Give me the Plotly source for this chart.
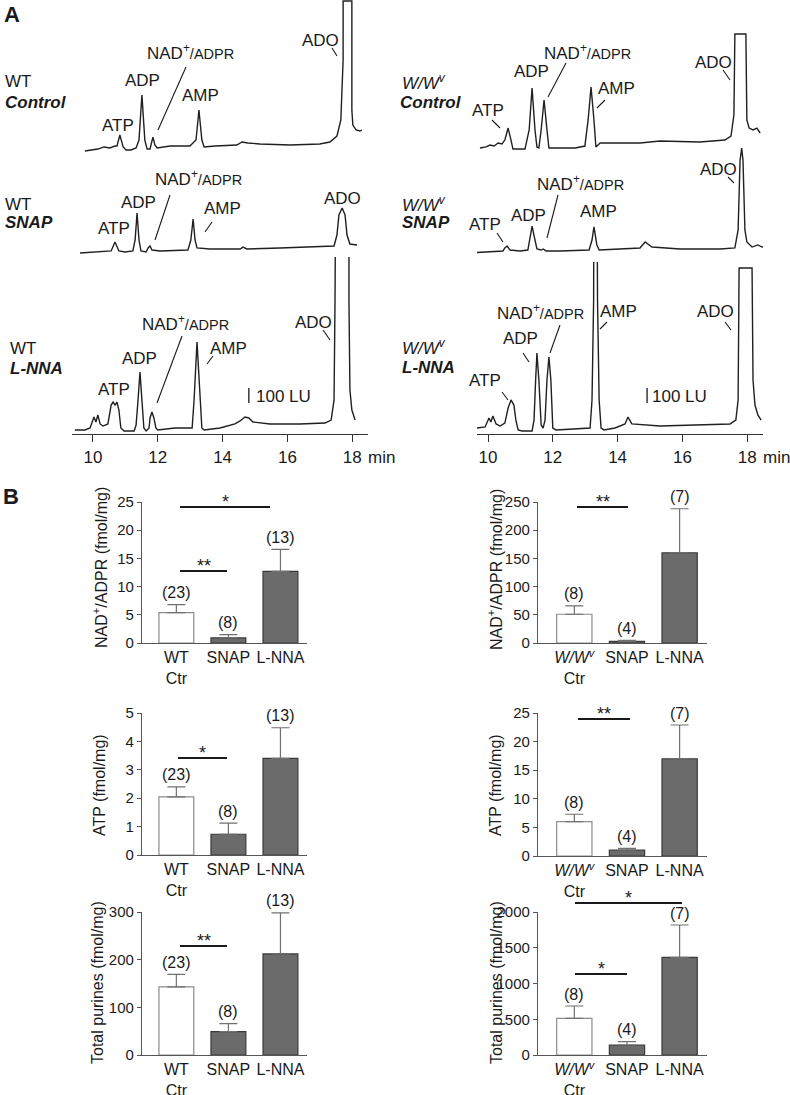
import plotly.graph_objects as go

W, H = 790, 1095
FONT = "Liberation Sans, Arial, sans-serif"
INK = "#1a1a1a"
LU_PER_PX = 100 / 15   # the 100 LU scale bar is 15 px tall

### panel A: HPLC traces, retention time (min) and fluorescence (LU)
wt_ctrl_t = [9.75, 9.97, 10.15, 10.34, 10.52, 10.68, 10.74, 10.83, 10.93, 11.02, 11.17, 11.33,
             11.42, 11.51, 11.60, 11.67, 11.76, 11.79, 11.85, 11.91, 11.98, 12.38, 12.99, 13.18,
             13.27, 13.36, 13.43, 13.77, 14.44, 14.60, 14.78, 15.15, 16.08, 17.00, 17.31, 17.53,
             17.65, 17.72, 17.72, 17.99, 17.99, 18.02, 18.12, 18.24, 18.30]
wt_ctrl_lu = [-20, -13, -7, 7, 0, 13, 13, 87, 7, -13, -13, 0,
              53, 353, 53, -7, -7, 20, 73, 20, 0, 13, 13, 53,
              253, 53, 7, 13, 20, 40, 33, 27, 20, 27, 40, 80,
              187, 587, 980, 980, 253, 153, 120, 113, 120]

wt_snap_t = [9.60, 10.06, 10.37, 10.56, 10.68, 10.80, 10.99, 11.23, 11.30, 11.36, 11.42, 11.48,
             11.64, 11.70, 11.76, 11.82, 12.07, 12.93, 13.02, 13.09, 13.15, 13.21, 13.61, 14.54,
             14.63, 14.75, 15.77, 17.00, 17.44, 17.53, 17.59, 17.69, 17.78, 17.84, 17.93, 18.15]
wt_snap_lu = [-7, 0, 7, 7, 67, 7, 0, 7, 80, 260, 80, 7,
              0, 27, 40, 13, 7, 13, 80, 220, 80, 27, 20, 20,
              33, 20, 27, 33, 40, 113, 247, 293, 247, 113, 53, 47]

wt_lnna_t = [9.44, 9.75, 9.91, 10.03, 10.09, 10.15, 10.22, 10.31, 10.46, 10.56, 10.62, 10.68,
             10.74, 10.80, 10.86, 10.96, 11.27, 11.33, 11.39, 11.45, 11.51, 11.57, 11.64, 11.73,
             11.76, 11.82, 11.88, 11.94, 12.00, 12.53, 13.06, 13.12, 13.21, 13.30, 13.36, 13.43,
             13.92, 14.38, 14.54, 14.69, 14.81, 14.94, 15.46, 16.39, 17.16, 17.35, 17.44, 17.47,
             17.50, 17.90, 17.90, 17.93, 17.99, 18.09]
wt_lnna_lu = [-13, -13, 0, 73, 40, 87, 27, 13, 27, 153, 173, 153,
              173, 120, 0, -20, -20, 20, 187, 373, 187, 0, -20, 0,
              67, 107, 67, 0, -13, 0, 0, 187, 573, 187, 0, -13,
              0, 27, 47, 73, 67, 40, 27, 27, 33, 53, 187, 853,
              2000, 2000, 853, 253, 120, 53]

wv_ctrl_t = [9.75, 9.94, 10.06, 10.19, 10.31, 10.43, 10.52, 10.62, 10.71, 10.77, 11.14, 11.27,
             11.36, 11.45, 11.51, 11.57, 11.64, 11.73, 11.82, 11.88, 12.69, 12.99, 13.09, 13.18,
             13.27, 13.33, 13.46, 14.69, 15.31, 16.54, 17.31, 17.50, 17.59, 17.62, 17.96, 17.99,
             18.06, 18.18, 18.30, 18.40]
wv_ctrl_lu = [-20, -13, 0, -7, 13, 7, 33, 113, 33, -27, -27, 100,
              380, 100, -13, -20, 100, 300, 100, -20, -20, -7, 167, 387,
              167, -13, 13, 13, 27, 20, 33, 60, 200, 740, 740, 167,
              113, 100, 113, 80]

wv_snap_t = [9.38, 10.06, 10.46, 10.52, 10.59, 10.68, 10.99, 11.23, 11.30, 11.36, 11.45, 11.51,
             11.64, 11.70, 11.79, 12.22, 13.12, 13.21, 13.27, 13.36, 13.43, 14.07, 14.69, 14.85,
             15.06, 15.93, 17.16, 17.62, 17.72, 17.78, 17.83, 17.87, 17.93, 17.99, 18.15, 18.33,
             18.46, 18.64]
wv_snap_lu = [-7, 0, 7, 27, 40, 13, 7, 13, 113, 173, 80, 20,
              13, 20, 7, 7, 13, 80, 167, 47, 13, 20, 27, 67,
              33, 20, 20, 27, 147, 613, 693, 613, 147, 67, 33, 47,
              33, 40]

wv_lnna_t = [9.66, 9.91, 10.03, 10.09, 10.15, 10.25, 10.37, 10.52, 10.62, 10.71, 10.80, 10.86,
             10.93, 11.05, 11.36, 11.42, 11.47, 11.51, 11.57, 11.64, 11.70, 11.76, 11.82, 11.88,
             11.94, 12.00, 12.10, 12.69, 13.15, 13.21, 13.26, 13.27, 13.36, 13.38, 13.43, 13.49,
             13.58, 13.92, 14.23, 14.32, 14.44, 15.31, 16.54, 17.47, 17.65, 17.72, 17.75, 18.15,
             18.18, 18.24, 18.33, 18.43]
wv_lnna_lu = [0, 7, 67, 40, 80, 27, 13, 33, 133, 187, 153, 53,
              -13, -20, -20, 53, 320, 500, 320, 20, 0, 53, 320, 473,
              320, 0, -13, -7, 0, 187, 853, 2000, 2000, 853, 187, 0,
              -13, 0, 27, 73, 27, 13, 20, 27, 53, 187, 1067, 1067,
              320, 153, 87, 53]

time_ticks = [10, 12, 14, 16, 18]
time_ticktext = ["10", "12", "14", "16", "18"]

### panel B: bar charts (mean + SEM, fmol/mg)
groups_wt = ["WT<br>Ctr", "SNAP", "L-NNA"]
groups_wv = ["<i>W/W<sup>v</sup></i><br>Ctr", "SNAP", "L-NNA"]
n_wt = ["(23)", "(8)", "(13)"]
n_wv = ["(8)", "(4)", "(7)"]

nad_wt = [5.4, 0.9, 12.7]
nad_wt_sem = [1.4, 0.6, 3.9]
atp_wt = [2.05, 0.73, 3.4]
atp_wt_sem = [0.35, 0.39, 1.08]
tot_wt = [143, 49, 212]
tot_wt_sem = [26, 17, 86]

nad_wv = [51, 3, 160]
nad_wv_sem = [15, 1.5, 78]
atp_wv = [6.0, 1.05, 17.0]
atp_wv_sem = [1.3, 0.3, 5.9]
tot_wv = [513, 140, 1366]
tot_wv_sem = [172, 46, 452]


def px(x, y):
    return x / W, 1 - y / H


def xdom(a, b):
    return [a / W, b / W]


def ydom(top, bottom):
    return [1 - bottom / H, 1 - top / H]


def axkey(name):
    return name[0] + "axis" + name[1:]


fig = go.Figure()
layout = dict(width=W, height=H, margin=dict(l=0, r=0, t=0, b=0, pad=0), template="none",
              plot_bgcolor="rgba(0,0,0,0)", paper_bgcolor="white", showlegend=False,
              font=dict(family=FONT, color=INK))

# chromatograms: each trace on its own hidden y axis, sharing the column x axis
chroms = [
    (wt_ctrl_t, wt_ctrl_lu, "x", "y", 0, 148, 160),
    (wt_snap_t, wt_snap_lu, "x", "y2", 140, 252, 262),
    (wt_lnna_t, wt_lnna_lu, "x", "y3", 257, 428, 434),
    (wv_ctrl_t, wv_ctrl_lu, "x2", "y4", 0, 145, 160),
    (wv_snap_t, wv_snap_lu, "x2", "y5", 140, 252, 262),
    (wv_lnna_t, wv_lnna_lu, "x2", "y6", 262, 428, 434),
]
for t, lu, xa, ya, top, base, bottom in chroms:
    fig.add_trace(go.Scatter(x=t, y=lu, mode="lines", xaxis=xa, yaxis=ya,
                             line=dict(color="#202020", width=1.4), hoverinfo="skip"))
    layout[axkey(ya)] = dict(domain=ydom(top, bottom), anchor=xa, visible=False, fixedrange=True,
                             automargin=False,
                             range=[-(bottom - base) * LU_PER_PX, (base - top) * LU_PER_PX])

time_axis = dict(tickvals=time_ticks, ticktext=time_ticktext, ticks="outside", ticklen=7,
                 tickcolor="#333", showline=True, linecolor="#333", linewidth=1.3,
                 showgrid=False, zeroline=False, automargin=False, fixedrange=True,
                 tickfont=dict(size=17, color=INK))
layout["xaxis"] = dict(time_axis, domain=xdom(72, 368), range=[9.352, 18.488], anchor="y3")
layout["xaxis2"] = dict(time_axis, domain=xdom(477, 763), range=[9.660, 18.488], anchor="y6")

annotations = []
shapes = []


def label(x, y, text, size=17, anchor="center", **kw):
    ax, ay = px(x, y)
    annotations.append(dict(x=ax, y=ay, xref="paper", yref="paper", text=text, showarrow=False,
                            xanchor=anchor, yanchor="middle", font=dict(size=size, color=INK), **kw))


def line(x0, y0, x1, y1, width=1.1):
    a0, b0 = px(x0, y0)
    a1, b1 = px(x1, y1)
    shapes.append(dict(type="line", xref="paper", yref="paper", x0=a0, y0=b0, x1=a1, y1=b1,
                       line=dict(color=INK, width=width)))


NAD = "NAD<sup>+</sup><span style='font-size:14.5px'>/ADPR</span>"
peak_labels = [
    (118, 126, "ATP"), (142, 80, "ADP"), (190, 52, NAD), (200, 95, "AMP"), (320, 40, "ADO"),
    (488, 110, "ATP"), (531, 72, "ADP"), (587, 52, NAD), (616, 88, "AMP"), (713, 63, "ADO"),
    (114, 228, "ATP"), (138, 202, "ADP"), (198, 178, NAD), (222, 208, "AMP"), (342, 199, "ADO"),
    (485, 225, "ATP"), (528, 216, "ADP"), (580, 183, NAD), (598, 212, "AMP"), (718, 169, "ADO"),
    (114, 389, "ATP"), (139, 358, "ADP"), (185, 323, NAD), (228, 348, "AMP"), (313, 322, "ADO"),
    (485, 380, "ATP"), (520, 338, "ADP"), (540, 312, NAD), (618, 312, "AMP"), (715, 312, "ADO"),
]
for x, y, txt in peak_labels:
    label(x, y, txt)

leaders = [
    (186, 67, 158, 130), (332, 48, 337, 56),
    (492, 120, 500, 128), (566, 63, 548, 97), (605, 100, 597, 108), (723, 70, 730, 80),
    (170, 195, 155, 240), (212, 222, 205, 232),
    (497, 233, 503, 242), (558, 195, 547, 238), (728, 177, 734, 183),
    (182, 336, 157, 403), (213, 356, 207, 364), (323, 330, 330, 340),
    (502, 392, 508, 400), (523, 353, 529, 362), (560, 325, 550, 353), (607, 322, 600, 329),
    (725, 322, 731, 330),
]
for seg in leaders:
    line(*seg)

# group names at left of each trace
WV = "<i>W/W<sup>v</sup></i>"
for x, y, txt in [(3, 82, "WT"), (3, 102, "<b><i>Control</i></b>"),
                  (3, 205, "WT"), (3, 223, "<b><i>SNAP</i></b>"),
                  (8, 348, "WT"), (8, 368, "<b><i>L-NNA</i></b>"),
                  (400, 82, WV), (398, 103, "<b><i>Control</i></b>"),
                  (400, 204, WV), (400, 222, "<b><i>SNAP</i></b>"),
                  (400, 347, WV), (400, 367, "<b><i>L-NNA</i></b>")]:
    label(x, y, txt, anchor="left")

# 100 LU scale bars (drawn in LU on the L-NNA axes)
for xa, ya, t0 in [("x", "y3", 14.81), ("x2", "y6", 14.91)]:
    shapes.append(dict(type="line", xref=xa, yref=ya, x0=t0, x1=t0, y0=167, y1=267,
                       line=dict(color=INK, width=1.3)))
label(254, 396, "100 LU", anchor="left")
label(650, 396, "100 LU", anchor="left")
label(366, 457, "min", anchor="left")
label(761, 457, "min", anchor="left")

label(12, 14, "<b>A</b>", size=22)
label(11, 496, "<b>B</b>", size=22)

### panel B bar charts
bars = [
    (nad_wt, nad_wt_sem, n_wt, groups_wt, 3, 7, (142, 307), (502, 643), 25, [0, 5, 10, 15, 20, 25],
     "NAD<sup>+</sup>/ADPR (fmol/mg)", (100, 568), [-0.66, 2.51]),
    (atp_wt, atp_wt_sem, n_wt, groups_wt, 4, 8, (142, 307), (713, 855), 5, [0, 1, 2, 3, 4, 5],
     "ATP (fmol/mg)", (99, 785), [-0.66, 2.51]),
    (tot_wt, tot_wt_sem, n_wt, groups_wt, 5, 9, (142, 307), (912, 1055), 300, [0, 100, 200, 300],
     "Total purines (fmol/mg)", (97, 983), [-0.66, 2.51]),
    (nad_wv, nad_wv_sem, n_wv, groups_wv, 6, 10, (538, 707), (502, 643), 250, [0, 50, 100, 150, 200, 250],
     "NAD<sup>+</sup>/ADPR (fmol/mg)", (495, 570), [-0.69, 2.52]),
    (atp_wv, atp_wv_sem, n_wv, groups_wv, 7, 11, (538, 707), (713, 856), 25, [0, 5, 10, 15, 20, 25],
     "ATP (fmol/mg)", (495, 785), [-0.69, 2.52]),
    (tot_wv, tot_wv_sem, n_wv, groups_wv, 8, 12, (538, 707), (912, 1055), 2000, [0, 500, 1000, 1500, 2000],
     "Total purines (fmol/mg)", (496, 983), [-0.69, 2.52]),
]
fills = ["white", "#6b6b6b", "#6b6b6b"]
edges = ["#8c8c8c", "#3a3a3a", "#3a3a3a"]

for means, sems, ns, groups, xi, yi, xd, yd, ymax, yticks, ytitle, tpos, xr in bars:
    xa, ya = "x%d" % xi, "y%d" % yi
    fig.add_trace(go.Bar(x=[0, 1, 2], y=means, width=0.67, xaxis=xa, yaxis=ya,
                         marker=dict(color=fills, line=dict(color=edges, width=1.2)),
                         error_y=dict(type="data", array=sems, arrayminus=[0, 0, 0], symmetric=False,
                                      color="#707070", thickness=1.2, width=9),
                         hoverinfo="skip"))
    layout["xaxis%d" % xi] = dict(domain=xdom(*xd), range=xr, anchor=ya, tickvals=[0, 1, 2],
                                  ticktext=groups, ticks="", showline=True, linecolor="#555",
                                  linewidth=1.2, showgrid=False, zeroline=False, automargin=False,
                                  tickfont=dict(size=16, color=INK), fixedrange=True)
    layout["yaxis%d" % yi] = dict(domain=ydom(*yd), range=[0, ymax], anchor=xa, tickvals=yticks,
                                  ticks="outside", ticklen=4, tickcolor="#555", showline=True,
                                  linecolor="#555", linewidth=1.2, showgrid=False, zeroline=False,
                                  automargin=False, tickfont=dict(size=15, color=INK), fixedrange=True)
    for i in range(3):
        annotations.append(dict(x=i, y=means[i] + sems[i], xref=xa, yref=ya, text=ns[i],
                                showarrow=False, yshift=12, font=dict(size=16, color=INK)))
    label(tpos[0], tpos[1], ytitle, size=16, textangle=-90)

# significance bars
sig = [(180, 227, 571, "**"), (180, 270, 507, "*"), (178, 227, 758, "*"), (180, 227, 946, "**"),
       (577, 628, 507, "**"), (578, 630, 719, "**"), (575, 682, 903, "*"), (575, 627, 974, "*")]
for x0, x1, y, s in sig:
    line(x0, y, x1, y, width=2)
    label((x0 + x1) / 2, y - 5, s, size=18)

layout["annotations"] = annotations
layout["shapes"] = shapes
fig.update_layout(layout)

# page body has an 8px default margin; drop it so the figure sits at the window corner
fig.write_html("out.html", config={"displayModeBar": False},
               post_script="document.body.style.margin='0px';")
